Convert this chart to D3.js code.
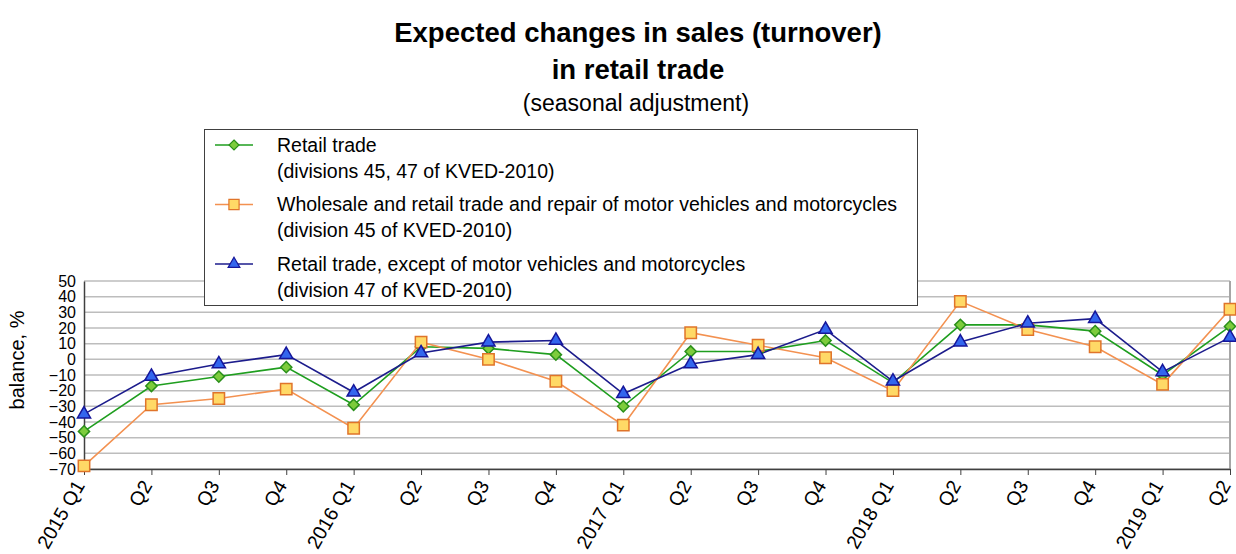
<!DOCTYPE html>
<html>
<head>
<meta charset="utf-8">
<title>Expected changes in sales</title>
<script src="https://d3js.org/d3.v7.min.js"></script>
<style>
  body { margin: 0; background: #fff; }
  text { font-family: "Liberation Sans", Arial, sans-serif; fill: #000; }
</style>
</head>
<body>
<svg width="1236" height="554"></svg>
<script>
const quarters = ["2015 Q1","Q2","Q3","Q4","2016 Q1","Q2","Q3","Q4","2017 Q1","Q2","Q3","Q4","2018 Q1","Q2","Q3","Q4","2019 Q1","Q2"];
const retail = [-46,-17,-11,-5,-29,8,7,3,-30,5,5,12,-15,22,22,18,-10,21];
const motor = [-68,-29,-25,-19,-44,11,0,-14,-42,17,9,1,-20,37,19,8,-16,32];
const nonMotor = [-35,-11,-3,3,-21,4,11,12,-22,-3,3,19,-14,11,23,26,-8,14];
const yTicks = d3.range(-70, 51, 10);

const series = [
  {name: "Retail trade", sub: "(divisions 45, 47 of KVED-2010)", values: retail,
   line: "#1f9e1f", fill: "#7dcc3c", stroke: "#2a8f1a", shape: d3.symbolDiamond2, size: 80},
  {name: "Wholesale and retail trade and repair of motor vehicles and motorcycles", sub: "(division 45 of KVED-2010)", values: motor,
   line: "#f39150", fill: "#ffd966", stroke: "#e0742a", shape: d3.symbolSquare, size: 130},
  {name: "Retail trade, except of motor vehicles and motorcycles", sub: "(division 47 of KVED-2010)", values: nonMotor,
   line: "#1c1c8c", fill: "#3366ee", stroke: "#16169a", shape: d3.symbolTriangle, size: 75}
];

const svg = d3.select("svg");
const plotL = 84, plotR = 1230, plotT = 281, plotB = 469;

const x = d3.scalePoint().domain(d3.range(quarters.length)).range([plotL, plotR]);
const y = d3.scaleLinear().domain([-70, 50]).range([plotB, plotT]);

// gridlines
svg.append("g").selectAll("line").data(yTicks).join("line")
  .attr("x1", plotL).attr("x2", plotR)
  .attr("y1", d => y(d)).attr("y2", d => y(d))
  .attr("stroke", "#bdbdbd").attr("stroke-width", 1.5);
svg.append("line").attr("x1", plotR).attr("x2", plotR).attr("y1", plotT).attr("y2", plotB)
  .attr("stroke", "#a6a6a6").attr("stroke-width", 2);

// y axis
const yAxis = svg.append("g").attr("transform", `translate(${plotL},0)`)
  .call(d3.axisLeft(y).tickValues(yTicks).tickSize(0).tickPadding(8));
yAxis.select(".domain").attr("stroke", "#404040").attr("stroke-width", 1.5);
yAxis.selectAll("text").style("font-size", "16px");

// x axis
const xAxis = svg.append("g").attr("transform", `translate(0,${plotB})`)
  .call(d3.axisBottom(x).tickSize(6).tickSizeOuter(0).tickFormat(i => quarters[i]));
xAxis.select(".domain").attr("stroke", "#404040").attr("stroke-width", 1.5);
xAxis.selectAll(".tick line").attr("stroke", "#404040");
xAxis.selectAll("text")
  .style("font-size", "19.5px")
  .attr("text-anchor", "end")
  .attr("y", 0)
  .attr("dy", "0.35em")
  .attr("transform", "translate(-5,13) rotate(-60)");

// y label
svg.append("text").attr("transform", "translate(24,360) rotate(-90)")
  .attr("text-anchor", "middle").style("font-size", "20px").text("balance, %");

// lines and markers
const line = d3.line().x((d, i) => x(i)).y(d => y(d));
series.forEach(s => {
  svg.append("path").datum(s.values).attr("d", line)
    .attr("fill", "none").attr("stroke", s.line).attr("stroke-width", 1.6);
});
series.forEach(s => {
  svg.append("g").selectAll("path").data(s.values).join("path")
    .attr("transform", (d, i) => `translate(${x(i)},${y(d)})`)
    .attr("d", d3.symbol().type(s.shape).size(s.size))
    .attr("fill", s.fill).attr("stroke", s.stroke).attr("stroke-width", 1.5);
});

// legend
const lg = svg.append("g");
lg.append("rect").attr("x", 204.5).attr("y", 129.5).attr("width", 713).attr("height", 176)
  .attr("fill", "#fff").attr("stroke", "#404040").attr("stroke-width", 1);
series.forEach((s, i) => {
  const yy = 145 + i * 59.5;
  lg.append("line").attr("x1", 215).attr("x2", 253).attr("y1", yy).attr("y2", yy)
    .attr("stroke", s.line).attr("stroke-width", 1.6);
  lg.append("path").attr("transform", `translate(234,${yy})`)
    .attr("d", d3.symbol().type(s.shape).size(s.size * 0.8))
    .attr("fill", s.fill).attr("stroke", s.stroke).attr("stroke-width", 1.2);
  lg.append("text").attr("x", 277).attr("y", yy).attr("dy", "0.35em")
    .style("font-size", "19.5px").text(s.name);
  lg.append("text").attr("x", 277).attr("y", yy + 26).attr("dy", "0.35em")
    .style("font-size", "19.5px").text(s.sub);
});

// titles
svg.append("text").attr("x", 638).attr("y", 42).attr("text-anchor", "middle")
  .style("font-size", "27.5px").style("font-weight", "bold").text("Expected changes in sales (turnover)");
svg.append("text").attr("x", 638).attr("y", 79).attr("text-anchor", "middle")
  .style("font-size", "27.5px").style("font-weight", "bold").text("in retail trade");
svg.append("text").attr("x", 636).attr("y", 111).attr("text-anchor", "middle")
  .style("font-size", "23px").text("(seasonal adjustment)");
</script>
</body>
</html>
